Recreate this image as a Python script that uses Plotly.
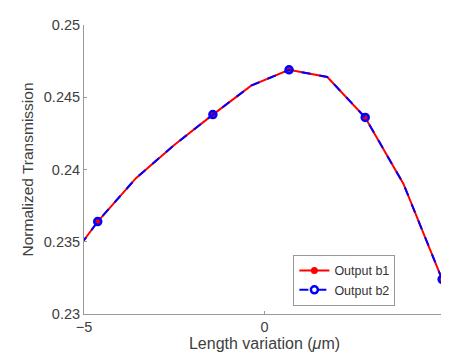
import plotly.graph_objects as go

# Data
length_variation = [-5.68, -4.62, -3.56, -2.50, -1.43, -0.37, 0.68, 1.74, 2.79, 3.85, 4.92, 5.98]
output_b1 = [0.2328, 0.2364, 0.2394, 0.2417, 0.2438, 0.2458, 0.2469, 0.2464, 0.2436, 0.2390, 0.2324, 0.2258]
output_b2 = [0.2328, 0.2364, 0.2394, 0.2417, 0.2438, 0.2458, 0.2469, 0.2464, 0.2436, 0.2390, 0.2324, 0.2258]
# 1 = marker drawn (points outside the axis range are clipped anyway)
marker_shown = [1, 1, 0, 0, 1, 0, 1, 0, 1, 0, 1, 1]
x_ticks = [-5, 0, 5]
y_ticks = [0.23, 0.235, 0.24, 0.245, 0.25]
y_tick_labels = ["0.23", "0.235", "0.24", "0.245", "0.25"]

red_cols = ["#ff0000" if m else "rgba(0,0,0,0)" for m in marker_shown]
blue_cols = ["#0000ff" if m else "rgba(0,0,0,0)" for m in marker_shown]

fig = go.Figure()
fig.add_trace(go.Scatter(
    x=length_variation, y=output_b1, name="Output b1", mode="lines+markers",
    line=dict(color="#ff0000", width=2),
    marker=dict(symbol="circle", size=7, color=red_cols, line=dict(width=0)),
    cliponaxis=True,
))
fig.add_trace(go.Scatter(
    x=length_variation, y=output_b2, name="Output b2", mode="lines+markers",
    line=dict(color="#0000ff", width=2, dash="dash"),
    marker=dict(symbol="circle-open", size=7, color=blue_cols, line=dict(width=2.5, color=blue_cols)),
    cliponaxis=True,
))

fam = "Liberation Sans, Arial, sans-serif"
tick_font = dict(family=fam, size=14.5, color="#404040")
title_font = dict(family=fam, size=15.5, color="#404040")
fig.update_layout(
    width=449, height=358,
    margin=dict(l=76, r=8, t=17, b=52),
    paper_bgcolor="white", plot_bgcolor="white",
    font=tick_font,
    showlegend=True,
    legend=dict(
        x=0.58, y=0.028, xanchor="left", yanchor="bottom",
        bordercolor="#999999", borderwidth=1, bgcolor="white",
        font=dict(family=fam, size=12.5, color="#333333"),
        tracegroupgap=0, itemwidth=30,
    ),
    xaxis=dict(
        range=[-5, 5], tickvals=x_ticks, ticks="inside", ticklen=3, tickcolor="#999999",
        showline=True, linecolor="#999999", linewidth=1, showgrid=False, zeroline=False,
        mirror=False, tickfont=tick_font,
        title=dict(text="Length variation (<i>μ</i>m)", font=dict(family=fam, size=16, color="#404040"), standoff=2),
    ),
    yaxis=dict(
        range=[0.23, 0.25], tickvals=y_ticks, ticktext=y_tick_labels, ticks="inside",
        ticklen=3, tickcolor="#999999",
        showline=True, linecolor="#999999", linewidth=1, showgrid=False, zeroline=False,
        mirror=False, tickfont=tick_font,
        title=dict(text="Normalized Transmission", font=title_font, standoff=6),
    ),
)

fig.write_html("out.html")
